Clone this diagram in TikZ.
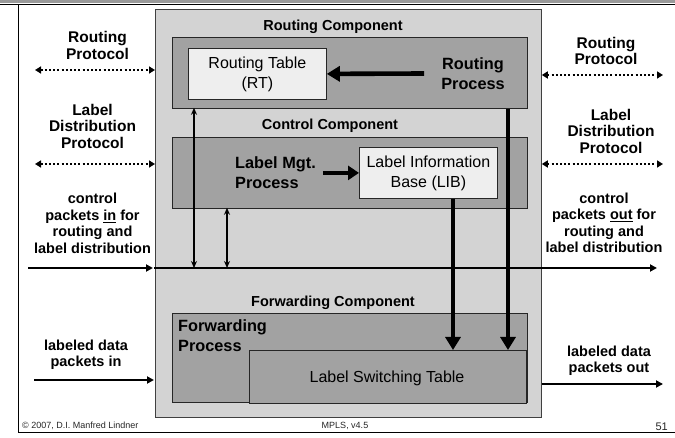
\documentclass[tikz,border=0pt]{standalone}
\usepackage{fontspec}
\setmainfont{Liberation Sans}
\usetikzlibrary{arrows.meta}
\definecolor{lightbg}{HTML}{D3D3D3}
\definecolor{darkbg}{HTML}{A2A2A2}
\definecolor{whitebg}{HTML}{EEEEEE}
\definecolor{bandgray}{HTML}{9A9A9A}
\tikzset{
  lightbox/.style={draw=black!75, line width=0.8pt, fill=lightbg, inner sep=0pt, anchor=north west},
  darkbox/.style={draw=black!85, line width=0.8pt, fill=darkbg, inner sep=0pt, anchor=north west},
  tablebox/.style={draw=black!85, line width=0.8pt, fill=whitebg, inner sep=0pt, anchor=north west},
  comptitle/.style={font=\bfseries\fontsize{14.5}{16}\selectfont},
  procbold/.style={font=\bfseries\fontsize{16.3}{20}\selectfont, align=left, inner sep=0pt},
  tabletext/.style={font=\fontsize{16}{20}\selectfont, align=center},
  sidelabel/.style={font=\bfseries\fontsize{15.5}{16.5}\selectfont, align=center, inner sep=0pt},
  smalllabel/.style={font=\bfseries\fontsize{14.5}{16.5}\selectfont, align=center, inner sep=0pt},
  footer/.style={font=\fontsize{9}{10}\selectfont, text=black!85, inner sep=0pt},
  bigarrow/.style={line width=4.6pt, -{Triangle[width=15pt,length=13pt]}},
  midarrow/.style={line width=4.6pt, -{Triangle[width=14pt,length=11pt]}},
  thinline/.style={line width=1.8pt, -{Triangle[width=7pt,length=7pt]}},
  dblarrow/.style={line width=1.3pt, {Stealth[width=6pt,length=7pt]}-{Stealth[width=6pt,length=7pt]}},
  dotarrow/.style={line width=2pt, dash pattern=on 2pt off 2.2pt, {Triangle[width=7pt,length=6pt]}-{Triangle[width=7pt,length=6pt]}},
}
\begin{document}
\begin{tikzpicture}[x=1pt, y=-1pt]
\useasboundingbox (0,0) rectangle (675,438);
% frame
\fill[bandgray] (0,0) rectangle (675,3.5);
\draw[line width=1.2pt] (0,4.2) -- (675,4.2);
\draw[line width=1pt] (18,4.2) -- (18,432) -- (675,432);
% main light box
\node[lightbox, minimum width=386pt, minimum height=408pt] (outer) at (155,9) {};
% routing component
\node[comptitle] (rctitle) at (333,27) {Routing Component};
\node[darkbox, minimum width=355pt, minimum height=71pt] (rc) at (172,37) {};
\node[tablebox, minimum width=138pt, minimum height=51pt] (rt) at (188,48) {};
\node[tabletext] (rttext) at (rt.center) {Routing Table\\(RT)};
\node[procbold, align=center] (rp) at (473,73.5) {Routing\\Process};
% control component
\node[comptitle] (cctitle) at (330,126) {Control Component};
\node[darkbox, minimum width=355pt, minimum height=71pt] (cc) at (172,137) {};
\node[tablebox, minimum width=138pt, minimum height=51pt] (lib) at (359,147) {};
\node[tabletext] (libtext) at (lib.center) {Label Information\\Base (LIB)};
\node[procbold, anchor=west] (lm) at (235,173) {Label Mgt.\\Process};
% forwarding component
\node[comptitle] (fctitle) at (333,303) {Forwarding Component};
\node[darkbox, minimum width=355pt, minimum height=89pt] (fc) at (172,313) {};
\node[procbold, anchor=north west] (fp) at (178,319) {Forwarding\\Process};
\node[darkbox, minimum width=277pt, minimum height=53pt] (lst) at (249,350) {};
\node[tabletext] (lsttext) at (387,378) {Label Switching Table};
% internal arrows
\draw[bigarrow] ([xshift=-17pt]rp.west) -- (rt.east);
\draw[midarrow] ([xshift=7pt]lm.east |- lib.west) -- (lib.west);
\coordinate (xlib) at (453,0);
\coordinate (xrp) at (508,0);
\draw[bigarrow] (lib.south -| xlib) -- (lst.north -| xlib);
\draw[bigarrow] (rc.south -| xrp) -- (lst.north -| xrp);
% control packet line
\coordinate (cin) at (28,268);
\coordinate (cout) at (657,268);
\draw[thinline] (cin) -- ([xshift=-2pt]outer.west |- cin);
\draw[thinline] ([xshift=-1pt]outer.west |- cin) -- (cout);
\coordinate (v1) at (194,0);
\coordinate (v2) at (227,0);
\draw[dblarrow] ([yshift=1pt]rc.south -| v1) -- (cin -| v1);
\draw[dblarrow] ([yshift=1pt]cc.south -| v2) -- (cin -| v2);
% left side
\node[sidelabel] (lrp) at (97.5,45.5) {Routing\\Protocol};
\coordinate (lrpa) at (35,70);
\draw[dotarrow] (lrpa) -- (outer.west |- lrpa);
\node[sidelabel] (lldp) at (92.5,126) {Label\\Distribution\\Protocol};
\coordinate (lldpa) at (35,164);
\draw[dotarrow] (lldpa) -- (outer.west |- lldpa);
\node[smalllabel] (lcin) at (92.5,223.5) {control\\packets \underline{in} for\\routing and\\label distribution};
\node[smalllabel] (ldin) at (86,355) {labeled data\\packets in};
\coordinate (ldina) at (34,380);
\draw[thinline] (ldina) -- ([xshift=-1pt]outer.west |- ldina);
% right side
\node[sidelabel] (rrp) at (606,51) {Routing\\Protocol};
\coordinate (rrpa) at (663,75);
\draw[dotarrow] (outer.east |- rrpa) -- (rrpa);
\node[sidelabel] (rldp) at (611,131) {Label\\Distribution\\Protocol};
\coordinate (rldpa) at (663,164);
\draw[dotarrow] (outer.east |- rldpa) -- (rldpa);
\node[smalllabel] (rcout) at (604,223) {control\\packets \underline{out} for\\routing and\\label distribution};
\node[smalllabel] (rdout) at (609,361) {labeled data\\packets out};
\coordinate (rdouta) at (663,384);
\draw[thinline] (outer.east |- rdouta) -- (rdouta);
% footer
\node[footer, anchor=west] (copy) at (22,426) {© 2007, D.I. Manfred Lindner};
\node[footer] (mpls) at (345,426) {MPLS, v4.5};
\node[footer, anchor=east, font=\fontsize{11}{12}\selectfont] (page) at (668,426.5) {51};
\end{tikzpicture}
\end{document}
